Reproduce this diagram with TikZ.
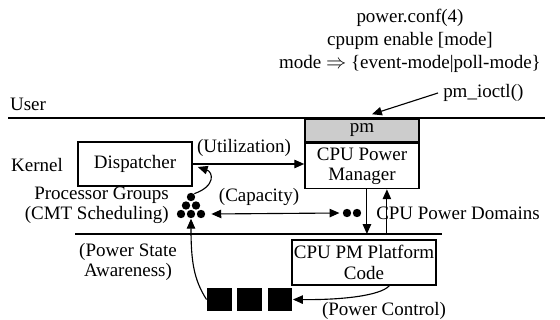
\documentclass[tikz,border=0pt]{standalone}
\usepackage{fontspec}
\setmainfont{Liberation Serif}
\usetikzlibrary{arrows.meta, positioning}

\begin{document}
\begin{tikzpicture}[x=0.025cm, y=-0.025cm, line width=0.8pt,
    font=\fontsize{13.5}{14.5}\selectfont,
    >={Triangle[length=7pt, width=6pt]},
    blk/.style={draw, line width=1.1pt, inner sep=0pt, align=center},
    dot/.style={circle, fill=black, inner sep=0pt, minimum size=0.21cm},
    sq/.style={fill=black, inner sep=0pt, minimum width=0.62cm, minimum height=0.58cm}]
    \useasboundingbox (0,0) rectangle (560,320);
    % layer separators
    \coordinate (userL) at (8,118);
    \coordinate (userR) at (545,118);
    \coordinate (kernL) at (75,234);
    \coordinate (kernR) at (442,234);
    \draw (userL) -- (userR);
    \draw (kernL) -- (kernR);
    \node (user) at (28,104) {User};
    \node (kernel) at (37,165) {Kernel};
    % configuration text
    \node[align=center] (conf) at (410,41) {power.conf(4)\\[2pt]cpupm enable [mode]\\[2pt]mode $\Rightarrow$ \{event-mode\textbar poll-mode\}};
    % boxes
    \node[blk, fill=gray!40, minimum width=2.85cm, minimum height=0.575cm] (pm) at (362,130.5) {pm};
    \node[blk, minimum width=2.85cm, minimum height=1.125cm, anchor=north] (cpupm) at (pm.south) {CPU Power\\Manager};
    \node[blk, minimum width=2.85cm, minimum height=1.1cm] (disp) at (135,164) {Dispatcher};
    \node[blk, minimum width=3.6cm, minimum height=1.125cm] (plat) at (364,262.5) {CPU PM Platform\\Code};
    % processor groups and power domains
    \foreach \n/\x/\y in {a/191/197, b/186/205.5, c/196/205.5, d/181/214, e/191/214, f/201/214}
        \node[dot] (pg\n) at (\x,\y) {};
    \foreach \n/\x in {1/347, 2/357}
        \node[dot] (pd\n) at (\x,213) {};
    \foreach \n/\x in {1/219.5, 2/249.5, 3/280}
        \node[sq] (sq\n) at (\x,299.5) {};
    % labels
    \node[align=right, anchor=east] (pglabel) at (174,205) {Processor Groups\\(CMT Scheduling)};
    \node (util) at (244,148) {(Utilization)};
    \node (cap) at (259,197) {(Capacity)};
    \node (dom) at (458,213) {CPU Power Domains};
    \node[align=center] (psa) at (128,262) {(Power State\\Awareness)};
    \node (pc) at (384,311) {(Power Control)};
    \node[anchor=west] (ioctl) at (438,93) {pm\_ioctl()};
    % connectors
    \draw[->] (ioctl.west) -- ([shift={(10,-4)}]pm.north);
    \draw[->] (disp.east) -- (disp.east -| cpupm.west);
    \draw[->] (pga.north east) .. controls (216,186) and (213,172) .. ([shift={(5,3)}]disp.east);
    \draw[<->] ([xshift=4pt]pgf.east) -- ([xshift=-2pt]pd1.west);
    \draw[->] ([xshift=3.5pt]cpupm.south) -- ([xshift=3.5pt]cpupm.south |- kernL);
    \draw[->] ([xshift=17.7pt]cpupm.south |- kernL) -- ([xshift=17.7pt]cpupm.south);
    \draw[->] (sq1.west) .. controls (194,280) and (191,262) .. (pge.south);
    \draw[->] ([xshift=18pt]plat.south) .. controls (380,296) and (340,300) .. (sq3.east);
\end{tikzpicture}
\end{document}
